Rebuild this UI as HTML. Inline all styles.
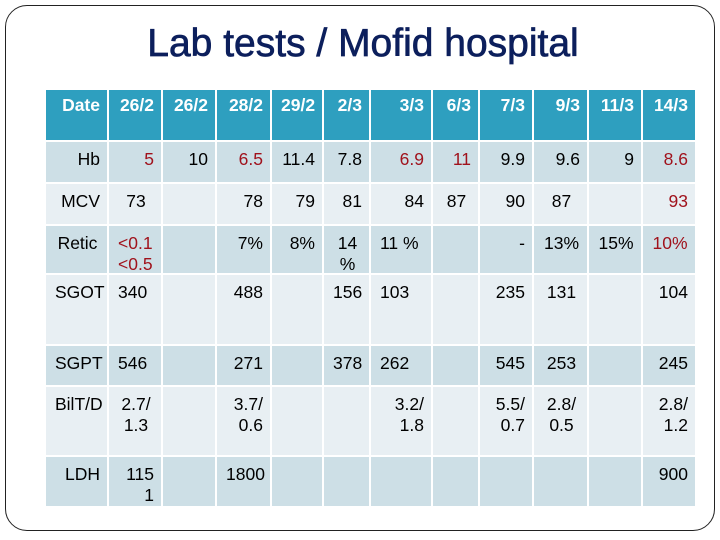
<!DOCTYPE html>
<html><head><meta charset="utf-8"><style>
body{margin:0;width:720px;height:540px;background:#fff;position:relative;overflow:hidden;font-family:"Liberation Sans",sans-serif}
.frame{position:absolute;left:5px;top:5px;width:710px;height:526px;border:1.5px solid #222;border-radius:22px;box-sizing:border-box}
h1{position:absolute;left:3px;width:720px;top:20px;margin:0;text-align:center;font-size:39px;line-height:48px;font-weight:normal;color:#0c1f5c;letter-spacing:0px;-webkit-text-stroke:0.7px #0c1f5c;transform:scaleX(1.0)}
.c{position:absolute;box-sizing:border-box;font-size:17.5px;line-height:21px;padding:7px 7px 0 9px;color:#000}
.red{color:#a0121c}
.hd{color:#fff;font-weight:bold;padding-top:5px}
</style></head><body>
<div class="frame"></div>
<h1>Lab tests / Mofid hospital</h1>
<div id="tbl"></div>
<script>
const colEdges=[46,109,163,217,272,324,371,433,480,534,589,643,697];
const rowEdges=[90,142,184,226,275,346,387,457,508];
const rowBg=['#2e9fbf','#cddfe6','#e8eff3','#cddfe6','#e8eff3','#cddfe6','#e8eff3','#cddfe6'];
// cell: [text, align, red]
const rows=[
[['Date','r'],['26/2','r'],['26/2','r'],['28/2','r'],['29/2','r'],['2/3','r'],['3/3','r'],['6/3','r'],['7/3','r'],['9/3','r'],['11/3','r'],['14/3','r']],
[['Hb','r'],['5','r',1],['10','r'],['6.5','r',1],['11.4','r'],['7.8','r'],['6.9','r',1],['11','r',1],['9.9','r'],['9.6','r'],['9','r'],['8.6','r',1]],
[['MCV','r'],['73','c'],['','r'],['78','r'],['79','r'],['81','r'],['84','r'],['87','c'],['90','r'],['87','c'],['','r'],['93','r',1]],
[['Retic','c'],['<0.1<br><0.5','l',1],['','r'],['7%','r'],['8%','r'],['14<br>%','c'],['11 %','l'],['','r'],['-','r'],['13%','c'],['15%','c'],['10%','c',1]],
[['SGOT','l'],['340','l'],['','r'],['488','r'],['','r'],['156','r'],['103','l'],['','r'],['235','r'],['131','c'],['','r'],['104','r']],
[['SGPT','l'],['546','l'],['','r'],['271','r'],['','r'],['378','r'],['262','l'],['','r'],['545','r'],['253','c'],['','r'],['245','r']],
[['BilT/D','l'],['2.7/<br>1.3','c'],['','r'],['3.7/<br>0.6','r'],['','r'],['','r'],['3.2/<br>1.8','r'],['','r'],['5.5/<br>0.7','r'],['2.8/<br>0.5','c'],['','r'],['2.8/<br>1.2','r']],
[['LDH','r'],['115<br>1','r'],['','r'],['1800','l'],['','r'],['','r'],['','r'],['','r'],['','r'],['','r'],['','r'],['900','r']]
];
const tbl=document.getElementById('tbl');
rows.forEach((row,ri)=>{
  row.forEach((cell,ci)=>{
    const d=document.createElement('div');
    
    
    d.className='c'+(ri===0?' hd':'')+(cell[2]?' red':'');
    const x0=colEdges[ci], x1=colEdges[ci+1]-2, y0=rowEdges[ri], y1=rowEdges[ri+1]-2;
    d.style.left=x0+'px';d.style.top=y0+'px';d.style.width=(x1-x0)+'px';d.style.height=(y1-y0)+'px';
    d.style.background=rowBg[ri];
    d.style.textAlign=cell[1]==='r'?'right':cell[1]==='l'?'left':'center';
    d.innerHTML=cell[0];
    tbl.appendChild(d);
  });
});
</script>
</body></html>
